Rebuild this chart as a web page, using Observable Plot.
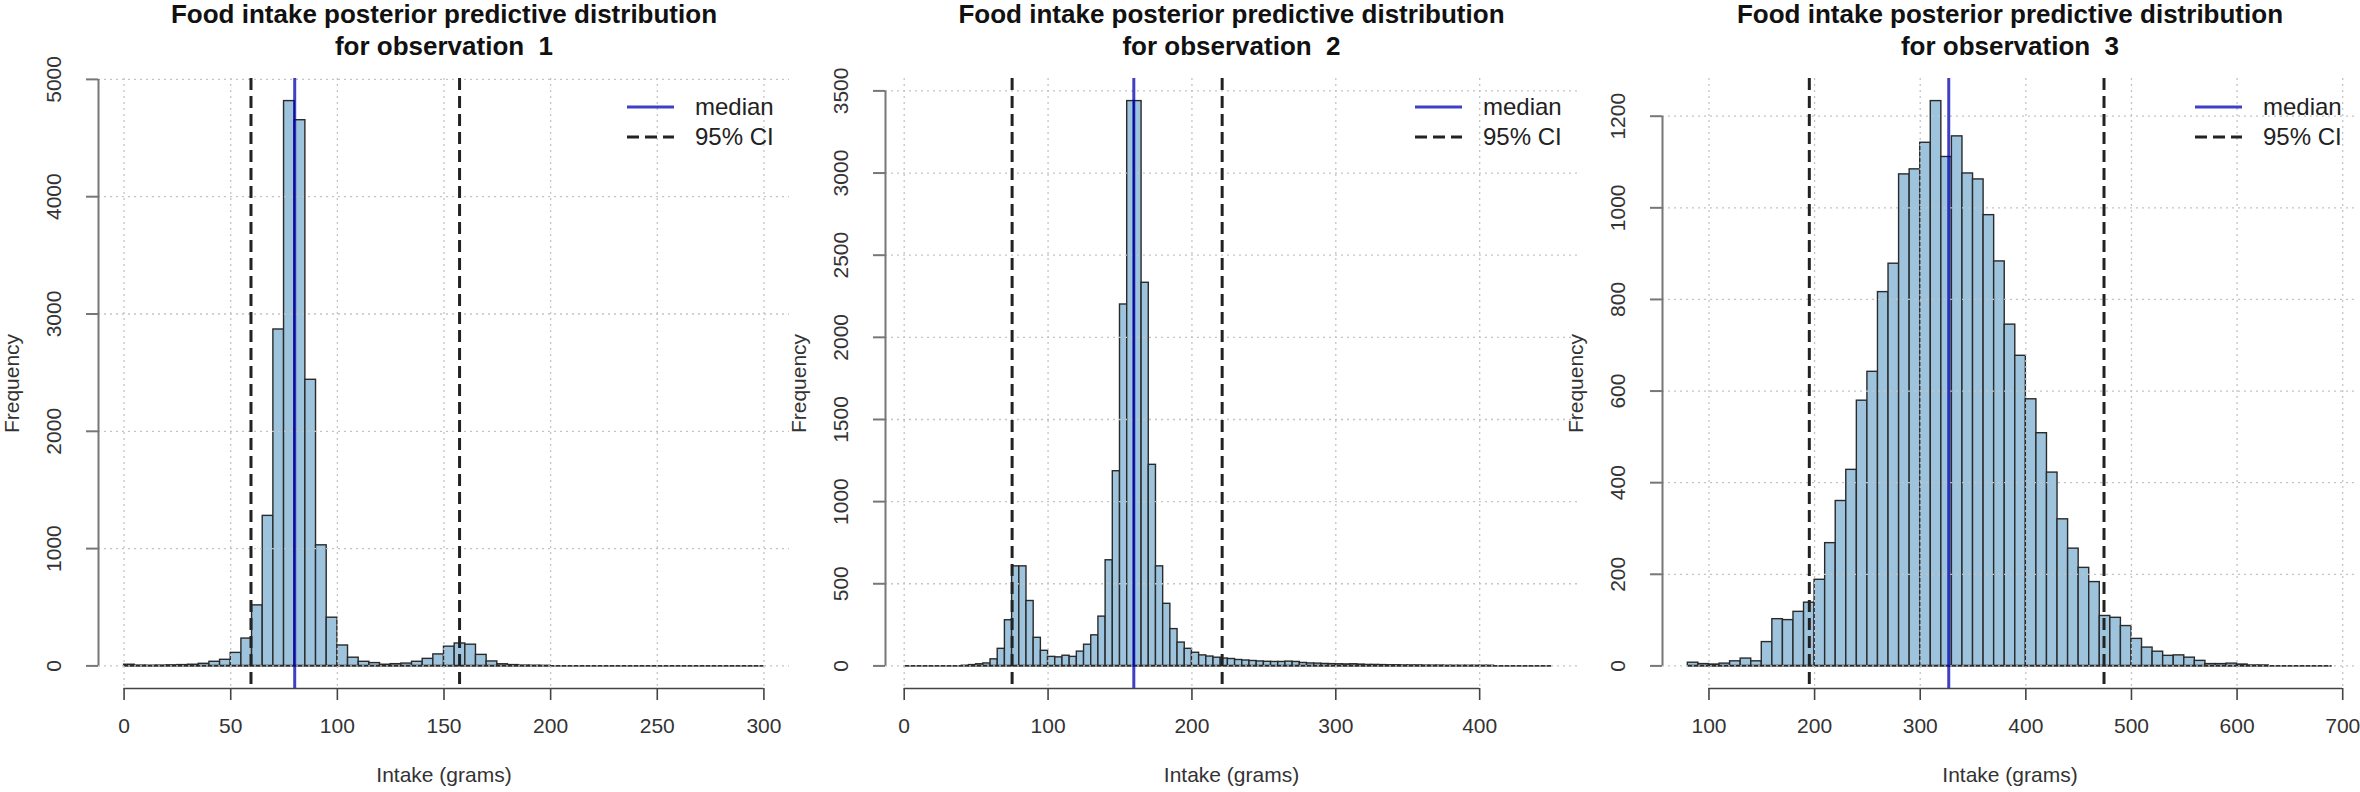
<!DOCTYPE html>
<html><head><meta charset="utf-8">
<script src="https://cdn.jsdelivr.net/npm/d3@7"></script>
<script src="https://cdn.jsdelivr.net/npm/@observablehq/plot@0.6"></script>
<style>
body{margin:0;background:#fff;}
#row{display:flex;width:2360px;height:792px;}
#row svg{flex:none;overflow:visible;}
</style></head><body><div id="row"></div>
<script>
const TITLE_LINE1 = "Food intake posterior predictive distribution";
const TITLE_LINE2 = "for observation ";
const X_LABEL = "Intake (grams)";
const Y_LABEL = "Frequency";
const LEGEND_LABELS = ["median", "95% CI"];

// Observation 1 : bins of 5 g from 0 to 300
const obs1Breaks = d3.range(0, 305, 5);
const obs1Counts = [10,3,2,3,5,7,10,18,35,52,111,233,516,1279,2868,4815,4652,2439,1028,411,
  174,70,35,24,10,15,20,35,60,98,164,191,181,94,38,14,7,3,2,1,
  0,0,0,0,0,0,0,0,0,0,0,0,0,0,0,0,0,0,0,0];
const obs1Median = 80;
const obs1CI = [59.5, 157.3];
const obs1XTicks = [0,50,100,150,200,250,300];
const obs1YTicks = [0,1000,2000,3000,4000,5000];

// Observation 2 : bins of 5 g from 0 to 450
const obs2Breaks = d3.range(0, 455, 5);
const obs2Counts = [0,0,0,0,0,0,0,0,1,5,10,15,40,104,278,606,606,395,171,92,
  55,52,62,55,87,129,186,300,643,1185,2200,3438,3438,2332,1224,606,378,224,142,104,
  80,64,57,50,45,42,36,33,30,27,25,24,24,26,24,18,15,14,12,11,
  10,9,10,8,6,6,5,4,4,3,3,3,2,2,2,1,1,1,1,1,
  1,1,0,0,0,0,0,0,0,0];
const obs2Median = 159.6;
const obs2CI = [75, 221];
const obs2XTicks = [0,100,200,300,400];
const obs2YTicks = [0,500,1000,1500,2000,2500,3000,3500];

// Observation 3 : bins of 10 g from 80 to 690
const obs3Breaks = d3.range(80, 700, 10);
const obs3Counts = [7,4,3,5,10,16,10,52,102,100,118,138,188,268,360,428,579,642,816,878,
  1073,1084,1142,1233,1111,1156,1075,1062,984,883,745,677,582,508,422,320,256,214,183,109,
  105,87,59,40,31,22,23,18,11,4,4,5,3,1,1,0,0,0,0,0,0];
const obs3Median = 327;
const obs3CI = [195, 474];
const obs3XTicks = [100,200,300,400,500,600,700];
const obs3YTicks = [0,200,400,600,800,1000,1200];

const FONT = "'Liberation Sans', Arial, Helvetica, sans-serif";
const BAR_FILL = "#9ec4dd";
const BAR_STROKE = "#2a2a2a";
const MEDIAN_COLOR = "#0000b4";

const panels = [
  {n: 1, breaks: obs1Breaks, counts: obs1Counts, median: obs1Median, ci: obs1CI, xTicks: obs1XTicks, yTicks: obs1YTicks,
   width: 789, marginLeft: 98, marginRight: 0, xDomain: [-12, 312]},
  {n: 2, breaks: obs2Breaks, counts: obs2Counts, median: obs2Median, ci: obs2CI, xTicks: obs2XTicks, yTicks: obs2YTicks,
   width: 788, marginLeft: 96, marginRight: 0, xDomain: [-13, 468]},
  {n: 3, breaks: obs3Breaks, counts: obs3Counts, median: obs3Median, ci: obs3CI, xTicks: obs3XTicks, yTicks: obs3YTicks,
   width: 783, marginLeft: 85, marginRight: 3, xDomain: [56, 714]}
];

function addLegend(svg, frameRight, frameTop) {
  const g = d3.select(svg).append("g")
    .attr("font-family", FONT).attr("font-size", 24).attr("fill", "#222").attr("text-anchor", "start");
  const rows = [
    {label: LEGEND_LABELS[0], stroke: MEDIAN_COLOR, opacity: 0.75, dash: null},
    {label: LEGEND_LABELS[1], stroke: "#222", opacity: 1, dash: "12,6"}
  ];
  rows.forEach((r, i) => {
    const y = frameTop + 29 + i * 30;
    const line = g.append("line")
      .attr("x1", frameRight - 162).attr("x2", frameRight - 115)
      .attr("y1", y).attr("y2", y)
      .attr("stroke", r.stroke).attr("stroke-opacity", r.opacity).attr("stroke-width", 3);
    if (r.dash) line.attr("stroke-dasharray", r.dash);
    g.append("text").attr("x", frameRight - 94).attr("y", y).attr("dy", "0.35em")
      .attr("text-anchor", "start").style("font-size", "24px").text(r.label);
  });
}

const row = document.getElementById("row");
const MT = 78, MB = 104, H = 792;
const fmt = d => String(d);

for (const p of panels) {
  const bins = p.counts.map((c, i) => ({x1: p.breaks[i], x2: p.breaks[i + 1], count: c}));
  const ymax = d3.max(p.counts);
  const yDomain = [-0.04 * ymax, 1.04 * ymax];
  const title = TITLE_LINE1 + "\n" + TITLE_LINE2 + " " + p.n;
  const grid = {stroke: "#c4c4c4", strokeOpacity: 1, strokeDasharray: "2,4", strokeWidth: 1.3};
  const svg = Plot.plot({
    width: p.width, height: H,
    marginTop: MT, marginBottom: MB, marginLeft: p.marginLeft, marginRight: p.marginRight,
    x: {domain: p.xDomain},
    y: {domain: yDomain},
    style: {fontFamily: FONT, fontSize: "21px", background: "white", color: "#222", overflow: "visible"},
    marks: [
      Plot.ruleY([0], {x1: p.breaks[0], x2: p.breaks[p.breaks.length - 1], stroke: "#333", strokeWidth: 1.6}),
      Plot.rectY(bins.filter(d => d.count > 0), {x1: "x1", x2: "x2", y: "count", fill: BAR_FILL, stroke: BAR_STROKE, strokeWidth: 1.4}),
      Plot.gridX(p.xTicks, grid),
      Plot.gridY(p.yTicks, grid),
      Plot.ruleX(p.ci, {stroke: "#222", strokeWidth: 3, strokeDasharray: "12,6"}),
      Plot.ruleX([p.median], {stroke: MEDIAN_COLOR, strokeOpacity: 0.75, strokeWidth: 3}),
      Plot.ruleX([p.xDomain[0]], {y1: p.yTicks[0], y2: p.yTicks[p.yTicks.length - 1], stroke: "#777", strokeWidth: 2}),
      Plot.axisY(p.yTicks, {tickSize: 12, tickPadding: 26, tickRotate: -90, tickFormat: fmt, stroke: "#777", strokeWidth: 2, fill: "#333", label: null}),
      Plot.ruleY([yDomain[0]], {x1: p.xTicks[0], x2: p.xTicks[p.xTicks.length - 1], stroke: "#444", strokeWidth: 1.6}),
      Plot.axisX(p.xTicks, {tickSize: 12, tickPadding: 18, tickFormat: fmt, stroke: "#444", strokeWidth: 1.6, fill: "#333", label: null}),
      Plot.text([title], {text: d => d, frameAnchor: "top", lineAnchor: "middle", textAnchor: "middle", dy: -49.5, fontSize: 26, fontWeight: "bold", lineHeight: 1.23, fill: "#111"}),
      Plot.text([X_LABEL], {text: d => d, frameAnchor: "bottom", lineAnchor: "middle", textAnchor: "middle", dy: 87, fill: "#333"}),
      Plot.text([Y_LABEL], {text: d => d, frameAnchor: "left", lineAnchor: "middle", textAnchor: "middle", dx: -86, rotate: -90, fill: "#333"})
    ]
  });
  addLegend(svg, p.width - p.marginRight, MT);
  row.appendChild(svg);
}
</script></body></html>
